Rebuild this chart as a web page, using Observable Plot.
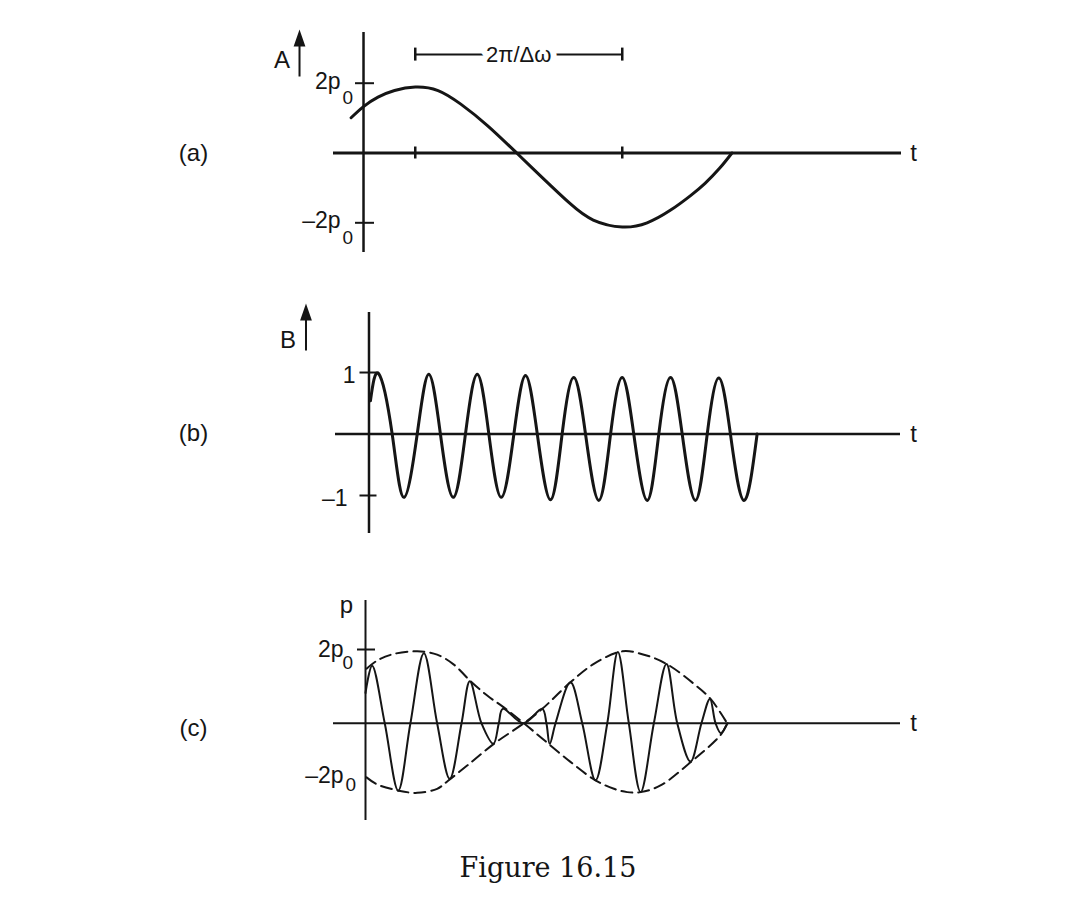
<!DOCTYPE html>
<html>
<head>
<meta charset="utf-8">
<script src="https://cdn.jsdelivr.net/npm/d3@7"></script>
<script src="https://cdn.jsdelivr.net/npm/@observablehq/plot@0.6"></script>
<style>
  html, body { margin: 0; padding: 0; background: #fff; }
  #root { position: relative; width: 1080px; height: 902px; overflow: hidden; background: #fff; }
  .panel { position: absolute; left: 0; }
  .panel svg { display: block; }
  #caption { position: absolute; left: 0; top: 854px; width: 1080px; box-sizing: border-box; padding-left: 16px;
    text-align: center; font-family: "DejaVu Serif", "Liberation Serif", serif; font-size: 27px; line-height: 27px; color: #151515; }
</style>
</head>
<body>
<div id="root">
  <div id="pa" class="panel" style="top:0px"></div>
  <div id="pb" class="panel" style="top:270px"></div>
  <div id="pc" class="panel" style="top:560px"></div>
  <div id="caption"></div>
</div>
<script>
// ================= DATA =================
// t is measured in units of the marked interval 2π/Δω; amplitudes in units of p0

// (a) envelope A(t)
const tA   = [-0.06, 0, 0.07, 0.15, 0.25, 0.36, 0.47, 0.60, 0.74, 0.87, 1.00, 1.11, 1.25, 1.37, 1.48, 1.58, 1.65, 1.72, 1.78];
const ampA = [ 1.01, 1.33, 1.60, 1.79, 1.89, 1.79, 1.40, 0.78, 0, -0.74, -1.46, -1.92, -2.12, -2.00, -1.65, -1.22, -0.87, -0.44, 0];
const yTicksA = [2, -2];
const yTickLabelsA = ["2p", "–2p"];
const intervalA = [0.25, 1.25];
const intervalLabel = "2π/Δω";

// (b) carrier B(t): start, then alternating zero crossings and extrema
const tB = [0.007, 0.047, 0.112, 0.168, 0.233, 0.289, 0.345, 0.407, 0.466, 0.523, 0.579, 0.639, 0.700, 0.756, 0.813, 0.877,
            0.933, 0.989, 1.046, 1.110, 1.167, 1.223, 1.279, 1.344, 1.400, 1.457, 1.513, 1.577, 1.634, 1.690, 1.746, 1.811, 1.875];
const carrierB = [0.54, 0.98, 0, -1.03, 0, 0.97, 0, -1.03, 0, 0.97, 0, -1.03, 0, 0.95, 0, -1.07,
                  0, 0.92, 0, -1.08, 0, 0.92, 0, -1.08, 0, 0.92, 0, -1.08, 0, 0.91, 0, -1.08, 0];
const yTicksB = [1, -1];
const yTickLabelsB = ["1", "–1"];

// (c) resulting pressure p(t) (beats) and its dashed envelopes ±A(t)
const tC = [0, 0.032, 0.093, 0.158, 0.217, 0.282, 0.346, 0.407, 0.464, 0.504, 0.560, 0.618, 0.644, 0.663, 0.763, 0.854, 0.874, 0.890,
            0.918, 0.990, 1.047, 1.111, 1.168, 1.219, 1.272, 1.329, 1.393, 1.454, 1.506, 1.570, 1.623, 1.664, 1.691, 1.717, 1.749];
const pressureC = [0.82, 1.56, 0, -1.83, 0, 1.90, 0, -1.51, 0, 1.14, 0, -0.56, 0, 0.39, 0, 0.39, 0, -0.56,
                   0, 1.11, 0, -1.55, 0, 1.93, 0, -1.87, 0, 1.61, 0, -1.04, 0, 0.66, 0, -0.27, 0];
const tEnvUpper = [0.005, 0.056, 0.137, 0.250, 0.346, 0.427, 0.504, 0.588, 0.668, 0.765, 0.861, 0.990, 1.111, 1.200, 1.264, 1.329, 1.425, 1.570, 1.717, 1.747];
const envUpper  = [1.48, 1.70, 1.88, 1.95, 1.86, 1.59, 1.16, 0.75, 0.43, 0, -0.45, -1.05, -1.55, -1.78, -1.87, -1.87, -1.69, -1.06, -0.31, 0];
const tEnvLower = [0.005, 0.056, 0.161, 0.250, 0.346, 0.399, 0.491, 0.620, 0.765, 0.854, 0.990, 1.103, 1.240, 1.345, 1.454, 1.586, 1.667, 1.747];
const envLower  = [-1.47, -1.66, -1.83, -1.89, -1.78, -1.56, -1.15, -0.56, 0, 0.39, 1.11, 1.61, 1.95, 1.86, 1.61, 1.07, 0.66, 0];
const yTicksC = [2];
const yLabelValuesC = [2, -2];
const yLabelsC = ["2p", "–2p"];

// texts
const panelLabels = ["(a)", "(b)", "(c)"];
const axisNames = ["A", "B", "p"];
const timeLabel = "t";
const subscript = "0";
const captionText = "Figure 16.15";

// ================= DRAWING =================
const INK = "#151515";
const FONT = "'Liberation Sans', Arial, Helvetica, sans-serif";
const rows = (ts, vs, s) => ts.map((t, i) => ({t, v: vs[i], s}));
// arrow pointing up: filled head + shaft (apex at the anchor)
const arrowUp = {draw(ctx) {
  ctx.moveTo(0, 0); ctx.lineTo(4.5, 13); ctx.lineTo(-4.5, 13); ctx.closePath();
  ctx.moveTo(0, 12); ctx.lineTo(0, 44);
}};
const common = {width: 1080, style: {fontFamily: FONT, fontSize: "23px", color: INK, background: "transparent"}};
const LABEL = 24, TICK = 23, SUB = 19;
const BRACKET_A = 2.82; // level of the 2π/Δω bracket above the curve

// ---------- (a) ----------
const figA = Plot.plot({
  ...common, height: 270,
  marginTop: 32, marginBottom: 18, marginLeft: 333, marginRight: 179,
  x: {domain: [-0.145, 2.599], axis: null},
  y: {domain: [-2.851, 3.453], axis: null},
  marks: [
    Plot.ruleY([0], {strokeWidth: 3}),
    Plot.ruleX([0], {strokeWidth: 2.5}),
    Plot.ruleY(yTicksA, {y: d => d, x1: 0, x2: 0, insetLeft: -8, insetRight: -11, strokeWidth: 2}),
    Plot.ruleX(intervalA, {x: d => d, y1: 0, y2: 0, insetTop: -6, insetBottom: -6, strokeWidth: 2.5}),
    Plot.ruleY([BRACKET_A], {x1: intervalA[0], x2: intervalA[1], strokeWidth: 2}),
    Plot.ruleX(intervalA, {x: d => d, y1: BRACKET_A, y2: BRACKET_A, insetTop: -6.5, insetBottom: -6.5, strokeWidth: 2.5}),
    Plot.text([intervalLabel], {x: d3.mean(intervalA), y: BRACKET_A, text: d => d, fontSize: 22, fill: INK, stroke: "white", strokeWidth: 12, paintOrder: "stroke"}),
    Plot.line(rows(tA, ampA), {x: "t", y: "v", curve: "natural", strokeWidth: 3}),
    Plot.text(yTicksA, {x: 0, y: d => d, text: (d, i) => yTickLabelsA[i], textAnchor: "end", dx: -23, dy: -2, fontSize: TICK}),
    Plot.text(yTicksA, {x: 0, y: d => d, text: () => subscript, textAnchor: "start", dx: -21, dy: 15, fontSize: SUB}),
    Plot.text([panelLabels[0]], {y: 0, text: d => d, frameAnchor: "left", textAnchor: "middle", dx: -140, fontSize: LABEL}),
    Plot.text([timeLabel], {y: 0, text: d => d, frameAnchor: "right", textAnchor: "middle", dx: 12, fontSize: LABEL}),
    Plot.text([axisNames[0]], {x: 0, text: d => d, frameAnchor: "top", lineAnchor: "middle", dx: -81.5, dy: 28, fontSize: LABEL}),
    Plot.dot([0], {x: 0, frameAnchor: "top", symbol: arrowUp, dx: -64, fill: INK, stroke: INK, strokeWidth: 2})
  ]
});
document.getElementById("pa").append(figA);

// ---------- (b) ----------
const figB = Plot.plot({
  ...common, height: 290,
  marginTop: 42, marginBottom: 27, marginLeft: 335, marginRight: 180,
  x: {domain: [-0.1618, 2.5676], axis: null},
  y: {domain: [-1.618, 1.976], axis: null},
  marks: [
    Plot.ruleY([0], {strokeWidth: 2.5}),
    Plot.ruleX([0], {strokeWidth: 2.5}),
    Plot.ruleY(yTicksB, {y: d => d, x1: 0, x2: 0, insetLeft: -9, insetRight: -8, strokeWidth: 2}),
    Plot.line(rows(tB, carrierB), {x: "t", y: "v", curve: "natural", strokeWidth: 3}),
    Plot.text([yTicksB[0]], {x: 0, y: d => d, text: () => yTickLabelsB[0], textAnchor: "end", dx: -13.5, dy: 3, fontSize: TICK}),
    Plot.text([yTicksB[1]], {x: 0, y: d => d, text: () => yTickLabelsB[1], textAnchor: "end", dx: -21.5, dy: 3, fontSize: TICK}),
    Plot.text([panelLabels[1]], {y: 0, text: d => d, frameAnchor: "left", textAnchor: "middle", dx: -142, dy: -1, fontSize: LABEL}),
    Plot.text([timeLabel], {y: 0, text: d => d, frameAnchor: "right", textAnchor: "middle", dx: 13, fontSize: LABEL}),
    Plot.text([axisNames[1]], {x: 0, text: d => d, frameAnchor: "top", lineAnchor: "middle", dx: -81, dy: 28, fontSize: LABEL}),
    Plot.dot([0], {x: 0, frameAnchor: "top", symbol: arrowUp, dx: -63, dy: -6, fill: INK, stroke: INK, strokeWidth: 2})
  ]
});
document.getElementById("pb").append(figB);

// ---------- (c) ----------
const envelopes = [...rows(tEnvUpper, envUpper, "upper"), ...rows(tEnvLower, envLower, "lower")];
const figC = Plot.plot({
  ...common, height: 280,
  marginTop: 40, marginBottom: 20, marginLeft: 333, marginRight: 180,
  x: {domain: [-0.1546, 2.5845], axis: null},
  y: {domain: [-2.640, 3.330], axis: null},
  marks: [
    Plot.ruleY([0], {strokeWidth: 2}),
    Plot.ruleX([0], {strokeWidth: 2}),
    Plot.ruleY(yTicksC, {y: d => d, x1: 0, x2: 0, insetLeft: -8, insetRight: -10, strokeWidth: 2}),
    Plot.line(envelopes, {x: "t", y: "v", z: "s", curve: "catmull-rom", strokeWidth: 2, strokeDasharray: "11,6"}),
    Plot.line(rows(tC, pressureC), {x: "t", y: "v", curve: "catmull-rom", strokeWidth: 2}),
    Plot.text([yLabelValuesC[0]], {x: 0, y: d => d, text: () => yLabelsC[0], textAnchor: "end", dx: -22, dy: 0, fontSize: TICK}),
    Plot.text([yLabelValuesC[0]], {x: 0, y: d => d, text: () => subscript, textAnchor: "start", dx: -23, dy: 13, fontSize: SUB}),
    Plot.text([yLabelValuesC[1]], {x: 0, y: d => d, text: () => yLabelsC[1], textAnchor: "end", dx: -22, dy: -21, fontSize: TICK}),
    Plot.text([yLabelValuesC[1]], {x: 0, y: d => d, text: () => subscript, textAnchor: "start", dx: -20, dy: -12, fontSize: SUB}),
    Plot.text([panelLabels[2]], {y: 0, text: d => d, frameAnchor: "left", textAnchor: "middle", dx: -140, dy: 5, fontSize: LABEL}),
    Plot.text([timeLabel], {y: 0, text: d => d, frameAnchor: "right", textAnchor: "middle", dx: 13, fontSize: LABEL}),
    Plot.text([axisNames[2]], {x: 0, text: d => d, frameAnchor: "top", lineAnchor: "middle", dx: -19, dy: 5, fontSize: LABEL})
  ]
});
document.getElementById("pc").append(figC);

document.getElementById("caption").textContent = captionText;
</script>
</body>
</html>
